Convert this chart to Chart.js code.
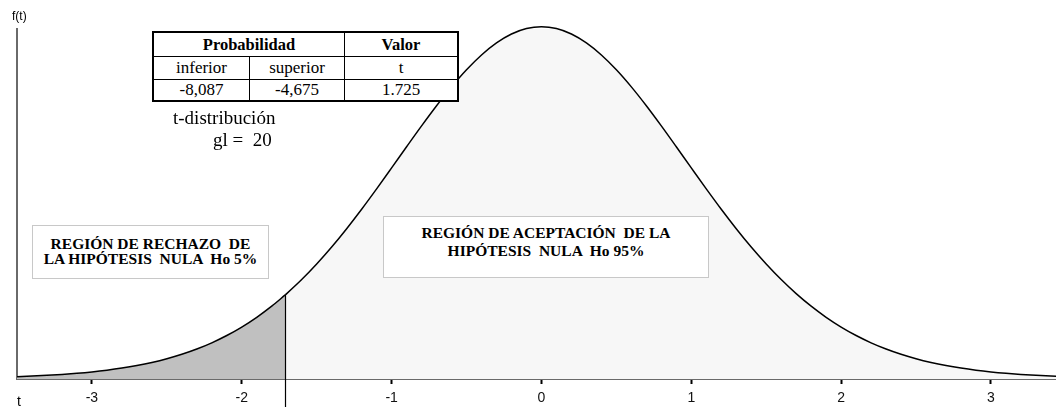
<!DOCTYPE html>
<html>
<head>
<meta charset="utf-8">
<script src="https://cdn.jsdelivr.net/npm/chart.js@4.4.1/dist/chart.umd.min.js"></script>
<style>
  body { margin: 0; background: #fff; }
  #wrap { position: relative; width: 1056px; height: 407px; overflow: hidden; }
  #chart { position: absolute; left: 0; top: 0; }
  .ov { position: absolute; z-index: 2; color: #000; white-space: pre; }
  .serif { font-family: "Liberation Serif", "Times New Roman", serif; }
  .sans { font-family: "Liberation Sans", Arial, sans-serif; }
  table.tb { position: absolute; left: 152px; top: 31px; border-collapse: collapse; background: #fff; z-index: 2;
             border: 2px solid #000; font-family: "Liberation Serif", "Times New Roman", serif; font-size: 17px; }
  table.tb td { border: 1px solid #000; text-align: center; padding: 0; line-height: 17px; }
  .box { position: absolute; z-index: 2; background: #fff; border: 1px solid #c8c8c8; box-sizing: border-box;
         font-family: "Liberation Serif", "Times New Roman", serif; font-weight: bold; font-size: 15.5px;
         text-align: center; white-space: pre; }
</style>
</head>
<body>
<div id="wrap">
  <canvas id="chart" width="1056" height="407"></canvas>

  <table class="tb">
    <tr style="height:24px"><td colspan="2" style="width:190px;font-weight:bold;font-size:16.5px">Probabilidad</td><td style="width:112px;font-weight:bold;font-size:16.5px">Valor</td></tr>
    <tr style="height:23px"><td style="width:95px">inferior</td><td style="width:94px">superior</td><td>t</td></tr>
    <tr style="height:22px"><td>-8,087</td><td>-4,675</td><td>1.725</td></tr>
  </table>

  <div class="ov serif" style="left:173px;top:107px;font-size:19px;line-height:22px;">t-distribución</div>
  <div class="ov serif" style="left:213px;top:129px;font-size:19px;line-height:22px;">gl =  20</div>

  <div class="box" style="left:32px;top:225px;width:237px;height:54px;padding-top:10px;line-height:15px;">REGIÓN DE RECHAZO  DE
LA HIPÓTESIS  NULA  Ho 5%</div>
  <div class="box" style="left:383px;top:216px;width:326px;height:62px;padding-top:7px;line-height:18px;">REGIÓN DE ACEPTACIÓN  DE LA
HIPÓTESIS  NULA  Ho 95%</div>

  <div class="ov sans" style="left:12px;top:9px;font-size:12px;line-height:14px;">f(t)</div>
  <div class="ov sans" style="left:17px;top:393px;font-size:14px;line-height:16px;">t</div>
</div>

<script>
// ---- data ----
const tValues = [
  -3.5, -3.4, -3.3, -3.2, -3.1, -3.0, -2.9, -2.8, -2.7, -2.6, -2.5, -2.4, -2.3, -2.2, -2.1,
  -2.0, -1.9, -1.8, -1.71, -1.7, -1.6, -1.5, -1.4, -1.3, -1.2, -1.1, -1.0, -0.9, -0.8, -0.7,
  -0.6, -0.5, -0.4, -0.3, -0.2, -0.1, 0.0, 0.1, 0.2, 0.3, 0.4, 0.5, 0.6, 0.7, 0.8, 0.9,
  1.0, 1.1, 1.2, 1.3, 1.4, 1.5, 1.6, 1.7, 1.8, 1.9, 2.0, 2.1, 2.2, 2.3, 2.4, 2.5, 2.6,
  2.7, 2.8, 2.9, 3.0, 3.1, 3.2, 3.3, 3.4, 3.5
];
const density = [
  0.00261, 0.00328, 0.00410, 0.00513, 0.00640, 0.00796, 0.00988, 0.01223, 0.01508, 0.01852, 0.02267, 0.02763, 0.03353, 0.04047, 0.04862,
  0.05808, 0.06898, 0.08143, 0.09401, 0.09550, 0.11123, 0.12862, 0.14761, 0.16810, 0.18986, 0.21263, 0.23604, 0.25967, 0.28302, 0.30555,
  0.32667, 0.34579, 0.36235, 0.37583, 0.38579, 0.39191, 0.39397, 0.39191, 0.38579, 0.37583, 0.36235, 0.34579, 0.32667, 0.30555, 0.28302, 0.25967,
  0.23604, 0.21263, 0.18986, 0.16810, 0.14761, 0.12862, 0.11123, 0.09550, 0.08143, 0.06898, 0.05808, 0.04862, 0.04047, 0.03353, 0.02763, 0.02267, 0.01852,
  0.01508, 0.01223, 0.00988, 0.00796, 0.00640, 0.00513, 0.00410, 0.00328, 0.00261
];
const tCut = -1.71;           // boundary of the rejection region as drawn
const tickValues = [-3, -2, -1, 0, 1, 2, 3];
const xMin = -3.5, xMax = 3.434;
const yMax = 0.3914;

// ---- build datasets ----
const pts = tValues.map((t, i) => ({ x: t, y: density[i] }));
const leftPts = pts.filter(p => p.x <= tCut);
const rightPts = pts.filter(p => p.x >= tCut);
const cutDensity = density[tValues.indexOf(tCut)];

const cutLine = {
  id: 'cutLine',
  afterDatasetsDraw(chart) {
    const xs = chart.scales.x, ys = chart.scales.y, ctx = chart.ctx;
    const px = Math.round(xs.getPixelForValue(tCut)) + 0.5;
    ctx.save();
    ctx.strokeStyle = '#000';
    ctx.lineWidth = 1.2;
    ctx.beginPath();
    ctx.moveTo(px, ys.getPixelForValue(cutDensity));
    ctx.lineTo(px, chart.height);
    ctx.stroke();
    ctx.restore();
  }
};

new Chart(document.getElementById('chart'), {
  type: 'line',
  data: {
    datasets: [
      { data: leftPts, fill: 'origin', backgroundColor: '#c0c0c0', borderColor: '#000', borderWidth: 1.5,
        pointRadius: 0, cubicInterpolationMode: 'monotone', clip: { left: 0, top: false, right: 0, bottom: 0 } },
      { data: rightPts, fill: 'origin', backgroundColor: '#f7f7f7', borderColor: '#000', borderWidth: 1.5,
        pointRadius: 0, cubicInterpolationMode: 'monotone', clip: { left: 0, top: false, right: 0, bottom: 0 } }
    ]
  },
  options: {
    responsive: false,
    animation: false,
    events: [],
    layout: { padding: { top: 29, left: 0, right: 0, bottom: 0 } },
    plugins: { legend: { display: false }, tooltip: { enabled: false } },
    scales: {
      x: {
        type: 'linear', min: xMin, max: xMax, z: 1,
        afterBuildTicks(scale) { scale.ticks = tickValues.map(v => ({ value: v })); },
        afterFit(scale) { scale.height = 28; },
        grid: { display: true, drawOnChartArea: false, drawTicks: true, tickLength: 5, tickWidth: 2, tickColor: '#000' },
        border: { display: true, color: '#6a6a6a', width: 2 },
        ticks: { padding: 6, color: '#111', font: { family: 'Arial, "Liberation Sans", sans-serif', size: 14 }, maxRotation: 0 }
      },
      y: {
        min: 0, max: yMax, z: 1,
        afterFit(scale) { scale.width = 17; },
        grid: { display: false },
        border: { display: true, color: '#6a6a6a', width: 2 },
        ticks: { display: false }
      }
    }
  },
  plugins: [cutLine]
});
</script>
</body>
</html>
